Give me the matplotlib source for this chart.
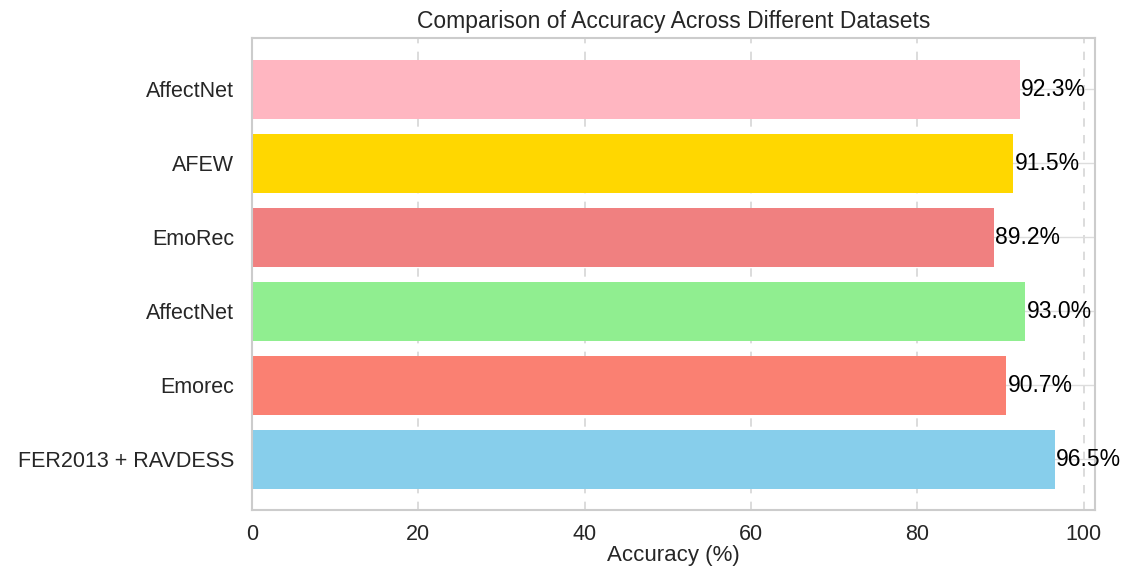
import matplotlib
matplotlib.use("Agg")
import matplotlib.pyplot as plt

categories = ["FER2013 + RAVDESS", "Emorec", "AffectNet", "EmoRec", "AFEW", "AffectNet"]
accuracy = [96.5, 90.7, 93.0, 89.2, 91.5, 92.3]
colors = ["skyblue", "salmon", "lightgreen", "lightcoral", "gold", "lightpink"]
xticks = [0, 20, 40, 60, 80, 100]

plt.rcParams['font.family'] = ['Liberation Sans', 'DejaVu Sans']

fig = plt.figure(figsize=(11.25, 5.7), dpi=100)
ax = fig.add_axes([0.224, 0.105, 0.749, 0.828])

pos = list(range(len(categories)))
ax.set_axisbelow(True)
ax.xaxis.grid(True, linestyle=(0, (5, 5)), color='#d5d5d5', linewidth=1.2)
ax.yaxis.grid(True, linestyle='-', color='#dddddd', linewidth=1.0)
bars = ax.barh(pos, accuracy, color=colors, height=0.8, zorder=2)
ax.set_yticks(pos)
ax.set_yticklabels(categories)
ax.set_xticks(xticks)
ax.set_xlim(0, max(accuracy) * 1.05)

for p, v in zip(pos, accuracy):
    ax.text(v + 0.2, p, f"{v:.1f}%", va='center', ha='left', fontsize=16.5, color='black', zorder=3)

ax.tick_params(axis='both', length=0, labelsize=15.5, labelcolor='#262626')
ax.tick_params(axis='y', pad=13)
ax.tick_params(axis='x', pad=10)
for s in ax.spines.values():
    s.set_color('#cccccc')
    s.set_linewidth(1.5)

ax.set_title("Comparison of Accuracy Across Different Datasets", fontsize=16.5, color='#262626', pad=7)
ax.set_xlabel("Accuracy (%)", fontsize=16, color='#262626', labelpad=0)

fig.savefig("out.png", dpi=100)
